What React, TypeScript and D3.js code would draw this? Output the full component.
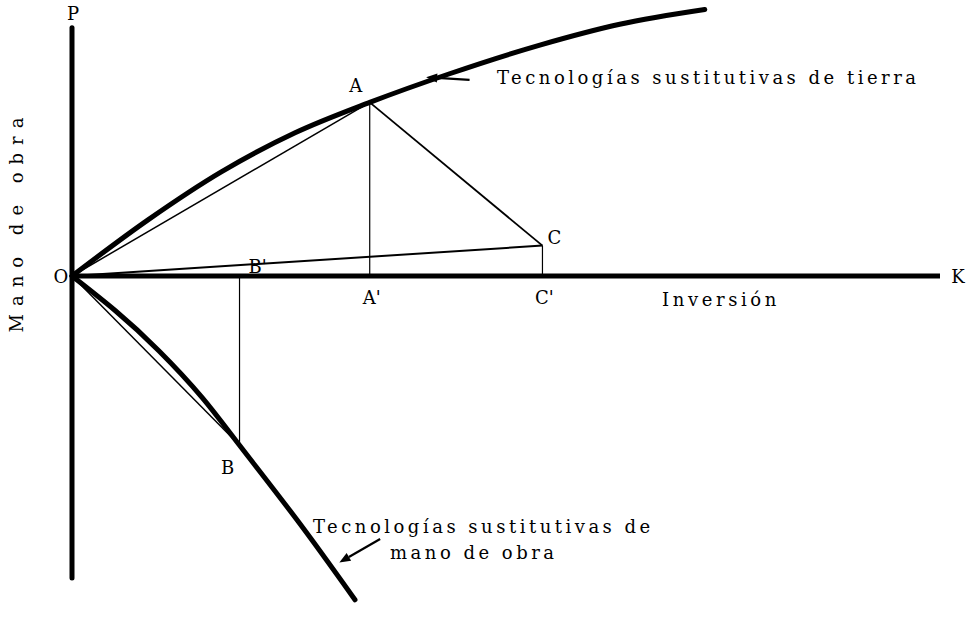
import React from "react";
import * as d3 from "d3";

// Curves (x = inversión, y = mano de obra; arbitrary units)
const upperCurveX = [0, 8.8, 17.2, 25.7, 34.3, 43.5, 53.9, 63.1, 72.9];
const upperCurveY = [0, 6.5, 12.0, 16.5, 20.0, 23.3, 26.6, 29.0, 30.7];
const lowerCurveX = [0, 5, 10, 15, 19.3, 26, 32.6];
const lowerCurveY = [0, -4.0, -8.6, -14.0, -19.5, -28.2, -37.3];

// Named points
const pointNames = ["A", "B", "C"];
const pointX = [34.3, 19.3, 54.2];
const pointY = [20.0, -19.5, 3.5];

// Axis extents
const xAxisMax = 100;
const yAxisMin = -34.8;
const yAxisMax = 28.6;

// Arrows [x1, y1, x2(head), y2(head)]
const arrowUpper = [45.8, 22.6, 40.8, 22.9];
const arrowLower = [35.5, -30.3, 30.8, -33.0];

const FONT = "'DejaVu Serif', serif";

export default function App() {
  const x = d3.scaleLinear().domain([0, 100]).range([72, 940]);
  const y = d3.scaleLinear().domain([0, 30]).range([276, 15.6]);
  const line = d3
    .line<[number, number]>()
    .x((d) => x(d[0]))
    .y((d) => y(d[1]))
    .curve(d3.curveMonotoneX);
  const lowLine = d3
    .line<[number, number]>()
    .x((d) => x(d[0]))
    .y((d) => y(d[1]))
    .curve(d3.curveNatural);

  const up: [number, number][] = upperCurveX.map((v, i) => [v, upperCurveY[i]]);
  const low: [number, number][] = lowerCurveX.map((v, i) => [v, lowerCurveY[i]]);

  const P = (n: string) => {
    const i = pointNames.indexOf(n);
    return [x(pointX[i]), y(pointY[i])];
  };
  const [ax, ay] = P("A");
  const [bx, by] = P("B");
  const [cx, cy] = P("C");
  const ox = x(0), oy = y(0);

  const thin = { stroke: "#000", strokeWidth: 1.5, fill: "none" };
  const txt = { fontFamily: FONT, fontSize: 18, fill: "#000" } as const;

  const arrow = (a: number[], key: string) => {
    const x1 = x(a[0]), y1 = y(a[1]), x2 = x(a[2]), y2 = y(a[3]);
    const ang = Math.atan2(y2 - y1, x2 - x1);
    const L = 11, W = 4.5;
    const bxh = x2 - L * Math.cos(ang), byh = y2 - L * Math.sin(ang);
    const px = -Math.sin(ang) * W, py = Math.cos(ang) * W;
    return (
      <g key={key}>
        <line x1={x1} y1={y1} x2={bxh} y2={byh} stroke="#000" strokeWidth={2.2} />
        <polygon points={`${x2},${y2} ${bxh + px},${byh + py} ${bxh - px},${byh - py}`} fill="#000" />
      </g>
    );
  };

  return (
    <svg width={974} height={618} style={{ position: "absolute", left: 0, top: 0, background: "#fff" }}>
      <rect width={974} height={618} fill="#fff" />
      {/* axes */}
      <line x1={ox} y1={y(yAxisMax)} x2={ox} y2={y(yAxisMin)} stroke="#000" strokeWidth={5} strokeLinecap="round" />
      <line x1={ox} y1={oy} x2={x(xAxisMax)} y2={oy} stroke="#000" strokeWidth={5} />
      {/* curves */}
      <path d={line(up) || ""} stroke="#000" strokeWidth={5} fill="none" strokeLinecap="round" />
      <path d={lowLine(low) || ""} stroke="#000" strokeWidth={5} fill="none" strokeLinecap="round" />
      {/* construction lines */}
      <line x1={ox} y1={oy} x2={ax} y2={ay} {...thin} />
      <line x1={ax} y1={ay} x2={ax} y2={oy} {...thin} strokeWidth={1.2} />
      <line x1={ax} y1={ay} x2={cx} y2={cy} {...thin} strokeWidth={1.8} />
      <line x1={ox} y1={oy} x2={cx} y2={cy} {...thin} strokeWidth={2} />
      <line x1={cx} y1={cy} x2={cx} y2={oy} {...thin} strokeWidth={1.2} />
      <line x1={ox} y1={oy} x2={bx} y2={by} {...thin} />
      <line x1={bx} y1={by} x2={bx} y2={oy} {...thin} strokeWidth={1.2} />
      {arrow(arrowUpper, "au")}
      {arrow(arrowLower, "al")}
      {/* labels */}
      <text x={ox + 1} y={y(yAxisMax) - 8} textAnchor="middle" {...txt}>P</text>
      <text x={ox - 11} y={oy + 7} textAnchor="middle" {...txt}>O</text>
      <text x={x(xAxisMax) + 18} y={oy + 7} textAnchor="middle" {...txt}>K</text>
      <text x={ax - 14} y={ay - 10} textAnchor="middle" {...txt}>A</text>
      <text x={cx + 12} y={cy - 2} textAnchor="middle" {...txt}>C</text>
      <text x={bx - 12} y={by + 29} textAnchor="middle" {...txt}>B</text>
      <text x={bx + 18} y={oy - 3} textAnchor="middle" {...txt}>B'</text>
      <text x={ax + 2} y={oy + 28} textAnchor="middle" {...txt}>A'</text>
      <text x={cx + 2} y={oy + 28} textAnchor="middle" {...txt}>C'</text>
      <text x={662} y={oy + 30} letterSpacing={3.6} {...txt}>Inversión</text>
      <text x={497} y={84} letterSpacing={3.5} {...txt}>Tecnologías sustitutivas de tierra</text>
      <text x={313} y={533} letterSpacing={3.5} {...txt}>Tecnologías sustitutivas de</text>
      <text x={390} y={559} letterSpacing={3.5} {...txt}>mano de obra</text>
      <text transform={`translate(23,${221}) rotate(-90)`} textAnchor="middle" letterSpacing={8} {...txt}>Mano de obra</text>
    </svg>
  );
}
